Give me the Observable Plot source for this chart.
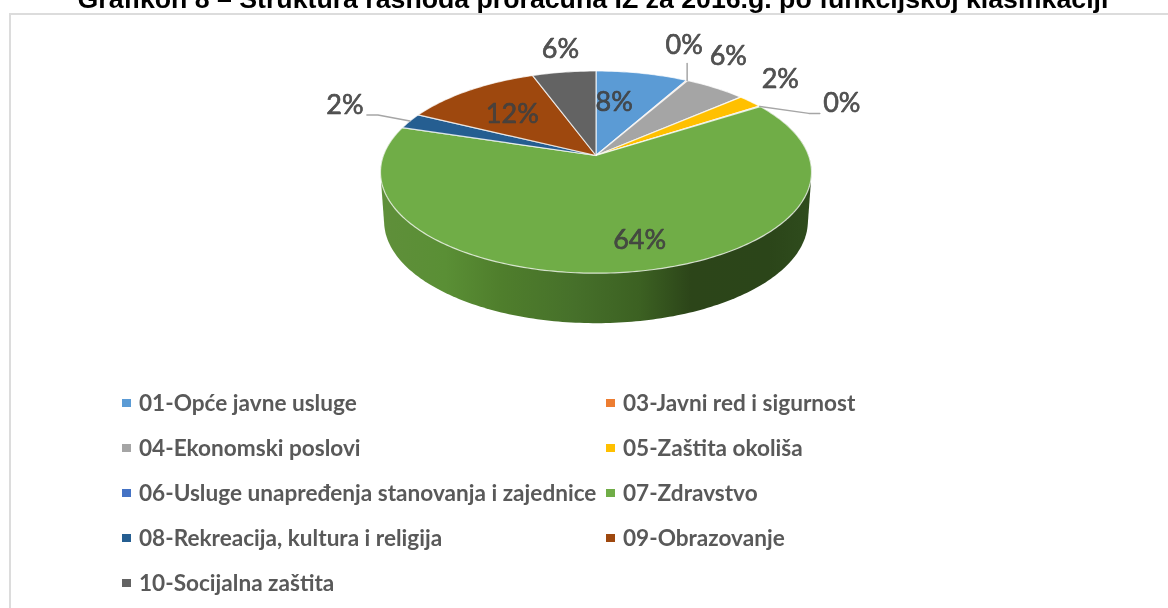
<!DOCTYPE html>
<html>
<head>
<meta charset="utf-8">
<script src="https://cdn.jsdelivr.net/npm/d3@7"></script>
<script src="https://cdn.jsdelivr.net/npm/@observablehq/plot@0.6"></script>
<style>
html,body{margin:0;padding:0;background:#fff}
#page{position:relative;width:1168px;height:608px;overflow:hidden;filter:blur(0.4px)}
#frame{position:absolute;left:9px;top:13px;right:-5px;bottom:-5px;border:2px solid #dcdcdc}
#title{position:absolute;left:0;width:1186px;top:-16px;text-align:center;font:bold 26.7px "Liberation Sans",Arial,sans-serif;color:#000;white-space:nowrap;margin:0}
#chart{position:absolute;left:0;top:0}
#legend{position:absolute;left:122px;top:380px;display:grid;grid-template-columns:484px 300px;grid-auto-rows:45px;font:bold 22.6px Lato,sans-serif;color:#595959}
#legend div{display:flex;align-items:center;white-space:nowrap}
#legend i{display:inline-block;width:9px;height:8px;margin-right:8px;flex:none}
</style>
</head>
<body>
<div id="page">
<div id="frame"></div>
<h1 id="title">Grafikon 8 – Struktura rashoda proračuna IZ za 2016.g. po funkcijskoj klasifikaciji</h1>
<div id="chart"></div>
<div id="legend"></div>
</div>
<script>
const categories = ["01-Opće javne usluge","03-Javni red i sigurnost","04-Ekonomski poslovi","05-Zaštita okoliša","06-Usluge unapređenja stanovanja i zajednice","07-Zdravstvo","08-Rekreacija, kultura i religija","09-Obrazovanje","10-Socijalna zaštita"];
const shares = [8.1,0.1,5.4,2.2,0.1,63.9,2.5,12.1,5.6];
const percentLabels = ["8%","0%","6%","2%","0%","64%","2%","12%","6%"];
const colors = ["#5b9bd5","#ed7d31","#a5a5a5","#ffc000","#4472c4","#70ad47","#255e91","#9e480e","#636363"];

// layout of the projected pie (not data)
const W = 1168, H = 380;
const top3d = {cx:595.5, cy:155, rx:212.6, ry:98.4};
const base3d = {cx:595.5, cy:204, rx:209, ry:99.2};
const persp = 0.164;
const labelNudge = [[-28,29],[-3,-35],[13,-32],[30,-22.5],[82,-3],[9.5,-32],[-65,-15.5],[43,24],[-3.5,-23]];
const leaderBends = {1:[[0,-17]],4:[[49,7],[60,7]],6:[[-32,-6],[-43,-6]]};

const project = (a, deck=top3d) => {
  const u = Math.sin(a), v = Math.cos(a), w = 1 + persp*v;
  return {x: deck.cx + deck.rx*u/w, y: deck.cy - deck.ry*v/w};
};
const total = d3.sum(shares);
let acc = 0;
const slices = categories.map((name,i)=>{
  const a0 = acc/total*2*Math.PI; acc += shares[i];
  return {name,i,a0,a1:acc/total*2*Math.PI};
});
const arc = (s,deck) => {
  const n = Math.max(2,Math.ceil((s.a1-s.a0)/(Math.PI/180)));
  return d3.range(n+1).map(k=>project(s.a0+(s.a1-s.a0)*k/n,deck));
};
const faceRows = slices.flatMap(s=>[
  {name:s.name,x:top3d.cx,y:top3d.cy},
  ...arc(s,top3d).map(p=>({name:s.name,...p})),
  {name:s.name,x:top3d.cx,y:top3d.cy}
]);
const green = slices[5];
const wallHull = d3.polygonHull([...arc(green,top3d),...arc(green,base3d)].map(p=>[p.x,p.y]));
const wallRows = [...wallHull,wallHull[0]].map(([x,y])=>({x,y}));
const mids = slices.map(s=>project((s.a0+s.a1)/2));
const labelRows = slices.map((s,i)=>({
  text:percentLabels[i],
  x:mids[i].x+labelNudge[i][0],
  y:mids[i].y+labelNudge[i][1]
}));
const leaderRows = Object.entries(leaderBends).flatMap(([i,b])=>[
  {k:i,x:mids[i].x,y:mids[i].y},
  ...b.map(o=>({k:i,x:mids[i].x+o[0],y:mids[i].y+o[1]}))
]);

const gradient = () => {
  const defs = d3.create("svg:defs");
  const g = defs.append("linearGradient").attr("id","wallShade");
  [[0,"#5f8f3a"],[0.15,"#5a8f35"],[0.28,"#4f7e2c"],[0.45,"#46702a"],[0.6,"#3c6122"],[0.72,"#2c4519"],[0.9,"#2b4519"],[1,"#2f4c1d"]]
    .forEach(([o,c])=>g.append("stop").attr("offset",o).attr("stop-color",c));
  return defs.node();
};

const plot = Plot.plot({
  width:W,height:H,margin:0,
  style:{background:"transparent",overflow:"visible"},
  x:{axis:null,domain:[0,W],range:[0,W]},
  y:{axis:null,domain:[0,H],range:[0,H]},
  color:{domain:categories,range:colors},
  marks:[
    gradient,
    Plot.line(wallRows,{x:"x",y:"y",fill:"url(#wallShade)",stroke:"none",curve:"linear"}),
    Plot.line(faceRows,{x:"x",y:"y",z:"name",fill:"name",stroke:"#ffffff",strokeWidth:1.2,strokeOpacity:0.75,curve:"linear"}),
    Plot.line(leaderRows,{x:"x",y:"y",z:"k",stroke:"#a6a6a6",strokeWidth:1.5,curve:"linear"}),
    Plot.text(labelRows,{x:"x",y:"y",text:"text",fontSize:27,fontFamily:"Lato, sans-serif",fill:"#404040",stroke:"#404040",strokeWidth:0.6,fillOpacity:0.9})
  ]
});
document.getElementById("chart").append(plot);

const legend = d3.select("#legend");
categories.forEach((c,i)=>{
  const row = legend.append("div");
  row.append("i").style("background",colors[i]);
  row.append("span").text(c);
});
</script>
</body>
</html>
